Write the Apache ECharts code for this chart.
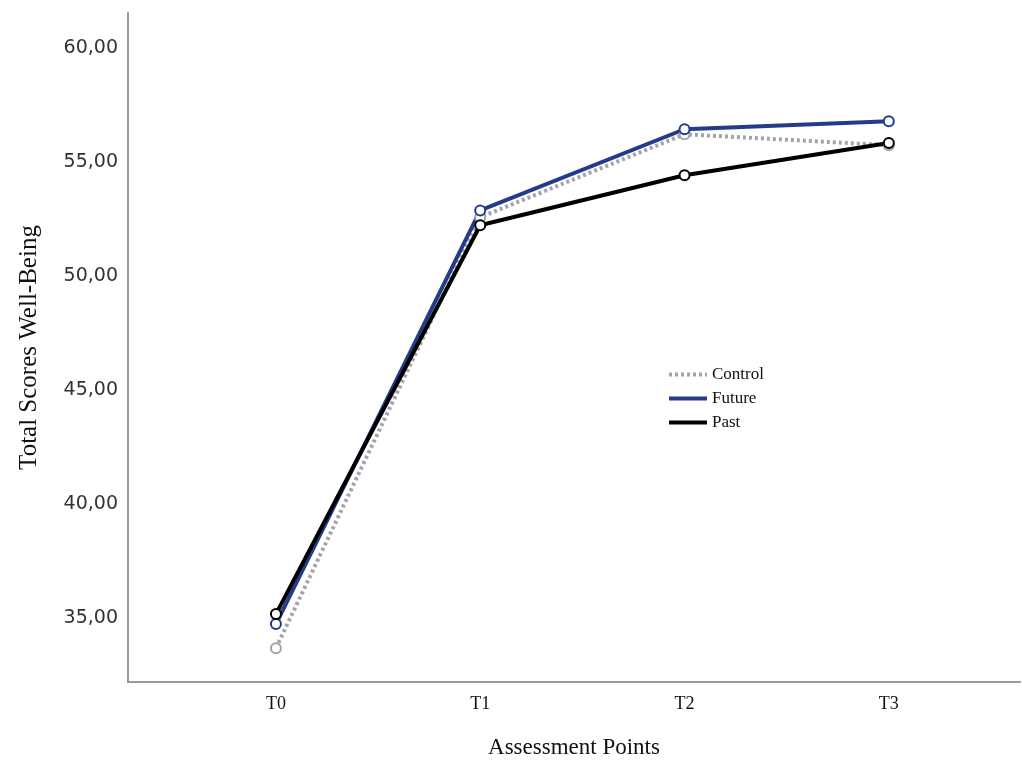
<!DOCTYPE html>
<html>
<head>
<meta charset="utf-8">
<script src="https://cdn.jsdelivr.net/npm/echarts@6/dist/echarts.min.js"></script>
<style>
  html, body { margin: 0; padding: 0; background: #fff; }
  #chart { width: 1022px; height: 760px; }
</style>
</head>
<body>
<div id="chart"></div>
<script>
  // assessment points (x positions 0..3)
  var points = ['T0', 'T1', 'T2', 'T3'];
  var yTicks = [35, 40, 45, 50, 55, 60];

  // mean well-being scores per group
  var control = [33.68, 52.59, 56.23, 55.75];
  var future = [34.74, 52.89, 56.45, 56.80];
  var past = [35.18, 52.24, 54.43, 55.85];

  function pairs(vals) {
    return vals.map(function (v, i) { return [i, v]; });
  }

  function makeSeries(name, vals, color, type) {
    return {
      name: name,
      type: 'line',
      data: pairs(vals),
      symbol: 'emptyCircle',
      symbolSize: 10,
      lineStyle: { color: color, width: 4, type: type },
      itemStyle: { color: color, borderColor: color, borderWidth: 1.5 },
      emphasis: { disabled: true }
    };
  }

  var chart = echarts.init(document.getElementById('chart'));
  chart.setOption({
    animation: false,
    grid: { left: 128, right: 2, top: 13, bottom: 78, containLabel: false, outerBoundsMode: 'none' },
    legend: {
      orient: 'vertical',
      left: 662,
      top: 361,
      itemWidth: 38,
      itemHeight: 14,
      itemGap: 7,
      itemStyle: { opacity: 0 },
      lineStyle: { width: 4 },
      textStyle: { fontFamily: 'Liberation Serif', fontSize: 17, color: '#111' },
      data: ['Control', 'Future', 'Past']
    },
    xAxis: {
      type: 'value',
      min: -0.724,
      max: 3.642,
      name: 'Assessment Points',
      nameLocation: 'middle',
      nameGap: 54,
      nameTextStyle: { fontFamily: 'Liberation Serif', fontSize: 23, color: '#111' },
      axisLine: { lineStyle: { color: '#999', width: 2 } },
      axisTick: { show: false },
      splitLine: { show: false },
      axisLabel: {
        customValues: [0, 1, 2, 3],
        margin: 13,
        fontFamily: 'Liberation Serif',
        fontSize: 18,
        color: '#111',
        formatter: function (v) { return points[Math.round(v)]; }
      }
    },
    yAxis: {
      type: 'value',
      min: 32.2,
      max: 61.55,
      name: 'Total Scores Well-Being',
      nameLocation: 'middle',
      nameGap: 86,
      nameTextStyle: { fontFamily: 'Liberation Serif', fontSize: 25, color: '#111' },
      axisLine: { show: true, onZero: false, lineStyle: { color: '#999', width: 2 } },
      axisTick: { show: false },
      splitLine: { show: false },
      axisLabel: {
        customValues: yTicks,
        margin: 10,
        fontFamily: 'DejaVu Sans',
        fontSize: 19,
        color: '#333',
        formatter: function (v) { return v.toFixed(2).replace('.', ','); }
      }
    },
    series: [
      makeSeries('Control', control, '#a3a3ab', [3, 3]),
      makeSeries('Future', future, '#223c8a', 'solid'),
      makeSeries('Past', past, '#000000', 'solid')
    ]
  });
</script>
</body>
</html>
